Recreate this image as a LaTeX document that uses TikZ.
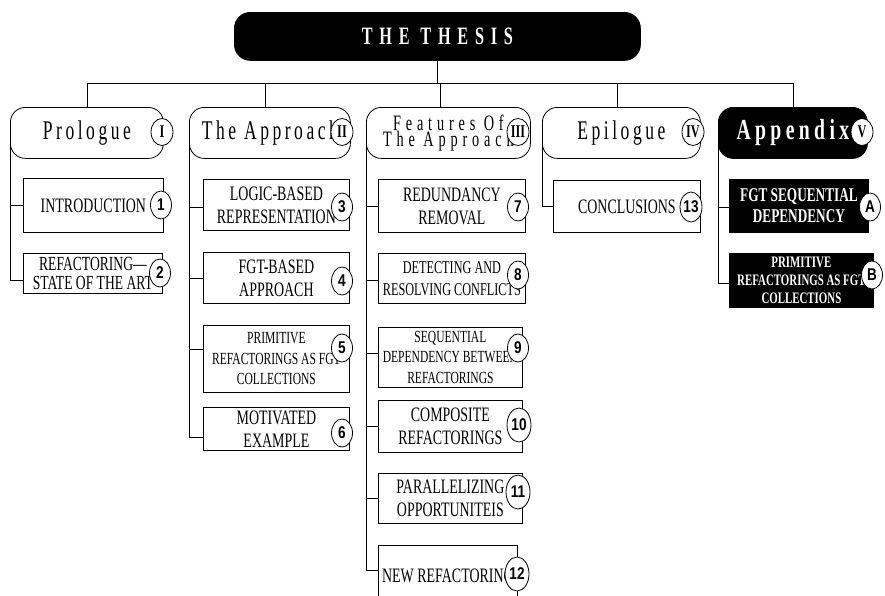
\documentclass[tikz,border=0pt]{standalone}
\usepackage{fontspec}
\setmainfont{Liberation Serif}
\newfontfamily\bxf[FakeStretch=0.68]{Liberation Serif}
\newfontfamily\hdf[FakeStretch=0.65,LetterSpace=13]{Liberation Serif}
\newfontfamily\ftf[FakeStretch=0.65,LetterSpace=22]{Liberation Serif}
\newfontfamily\apf[FakeStretch=0.68,LetterSpace=15]{Liberation Serif}
\newfontfamily\thf[FakeStretch=0.65,LetterSpace=27]{Liberation Serif}
\newfontfamily\nmf[FakeStretch=0.8]{Liberation Sans}
\usetikzlibrary{shapes.geometric}
\tikzset{
 line/.style={draw=black, line width=0.8pt},
 hdr/.style={line, rounded corners=15pt, fill=white, inner sep=0pt, align=center, font=\hdf\fontsize{27}{27}\selectfont},
 hdrblack/.style={hdr, fill=black, text=white, font=\apf\bfseries\fontsize{29}{29}\selectfont},
 box/.style={line, fill=white, inner sep=0pt, align=center, font=\bxf\fontsize{20.5}{23}\selectfont},
 smallbox/.style={box, font=\bxf\fontsize{17}{20.5}\selectfont},
 blackbox/.style={box, fill=black, text=white, font=\bxf\bfseries\fontsize{19.5}{21}\selectfont},
 num/.style={ellipse, line, fill=white, minimum width=21pt, minimum height=28pt, inner sep=0pt, font=\nmf\bfseries\fontsize{17}{17}\selectfont},
 bignum/.style={num, minimum width=24pt, minimum height=34pt},
 rom/.style={ellipse, line, fill=white, minimum width=22pt, minimum height=27pt, inner sep=0pt, font=\bxf\bfseries\fontsize{18}{18}\selectfont},
}
\newcommand\mkbx[7]{\node[#1,anchor=north west,minimum width={(#5)-(#3)},minimum height={(#6)-(#4)}] (#2) at (#3,#4) {#7};}
\begin{document}
\begin{tikzpicture}[x=1pt,y=-1pt]
\useasboundingbox (0,0) rectangle (885,595);
\clip (0,0) rectangle (885,595);
% top
\mkbx{hdrblack, rounded corners=16pt, font=\thf\bfseries\fontsize{25}{25}\selectfont}{T}{234}{12}{640}{60}{THE THESIS}
% headers
\mkbx{hdr}{h1}{10}{107}{163}{158}{Prologue}
\mkbx{hdr}{h2}{189}{107}{350}{158}{The Approach}
\mkbx{hdr,font=\ftf\fontsize{22}{16}\selectfont}{h3}{366}{107}{530}{158}{\raisebox{-2pt}{Features Of}\\\raisebox{-2pt}{The Approach}}
\mkbx{hdr}{h4}{542}{107}{700}{158}{Epilogue}
\mkbx{hdrblack}{h5}{718}{107}{867}{158}{Appendix}
\draw[line] (T.south) -- ++(0,23) coordinate (bar);
\draw[line] (h1.north) |- (bar);
\draw[line] ([xshift=-5pt]h2.north) |- (bar);
\draw[line] ([xshift=-8pt]h3.north) |- (bar);
\draw[line] ([xshift=-4pt]h4.north) |- (bar);
\draw[line] (h5.north) |- (bar);
\node[rom] (r1) at (162,132) {I};
\node[rom] (r2) at (342,132) {II};
\node[rom] (r3) at (518,132) {III};
\node[rom] (r4) at (693,132) {IV};
\node[rom] (r5) at (862,132) {V};
% column 1
\mkbx{box}{b1}{23}{178}{163}{232}{INTRODUCTION}
\mkbx{box,font=\bxf\fontsize{20}{19.5}\selectfont}{b2}{23}{253}{162}{293}{REFACTORING—\\STATE OF THE ART}
\draw[line] ([yshift=-8pt]h1.west) |- (b1.west) ([yshift=-8pt]h1.west) |- ([yshift=-7pt]b2.west);
\node[num] (c1) at (161,205) {1};
\node[num] (c2) at (160,273) {2};
% column 2
\mkbx{box}{b3}{203}{179}{349}{230}{LOGIC-BASED\\REPRESENTATION}
\mkbx{box}{b4}{203}{252}{349}{303}{FGT-BASED\\APPROACH}
\mkbx{smallbox}{b5}{203}{325}{349}{392}{PRIMITIVE\\REFACTORINGS AS FGT\\COLLECTIONS}
\mkbx{box}{b6}{203}{407}{349}{450}{MOTIVATED\\EXAMPLE}
\draw[line] ([yshift=-8pt]h2.west) |- ([yshift=-2pt]b3.west)
  ([yshift=-8pt]h2.west) |- (b4.west)
  ([yshift=-8pt]h2.west) |- ([yshift=10pt]b5.west)
  ([yshift=-8pt]h2.west) |- ([yshift=-8pt]b6.west);
\node[num] (c3) at (342,207) {3};
\node[num] (c4) at (342,281) {4};
\node[num] (c5) at (342,348) {5};
\node[num] (c6) at (342,433) {6};
% column 3
\mkbx{box}{b7}{378}{179}{525}{232}{REDUNDANCY\\REMOVAL}
\mkbx{smallbox,font=\bxf\fontsize{18}{22}\selectfont}{b8}{378}{253}{525}{303}{DETECTING AND\\RESOLVING CONFLICTS}
\mkbx{smallbox}{b9}{378}{327}{522}{387}{SEQUENTIAL\\DEPENDENCY BETWEEN\\REFACTORINGS}
\mkbx{box}{b10}{378}{400}{522}{452}{COMPOSITE\\REFACTORINGS}
\mkbx{box}{b11}{378}{473}{522}{523}{PARALLELIZING\\OPPORTUNITEIS}
\mkbx{box}{b12}{378}{545}{517}{605}{NEW REFACTORING}
\draw[line] ([yshift=-8pt]h3.west) |- (b7.west)
  ([yshift=-8pt]h3.west) |- ([yshift=-2pt]b8.west)
  ([yshift=-8pt]h3.west) |- ([yshift=4pt]b9.west)
  ([yshift=-8pt]h3.west) |- (b10.west)
  ([yshift=-8pt]h3.west) |- (b11.west)
  ([yshift=-8pt]h3.west) |- ([yshift=5pt]b12.west);
\node[num] (c7) at (518,207) {7};
\node[num] (c8) at (518,275) {8};
\node[num] (c9) at (518,348) {9};
\node[bignum] (c10) at (519,425) {10};
\node[bignum] (c11) at (518,492) {11};
\node[bignum] (c12) at (517,574) {12};
% column 4
\mkbx{box}{b13}{553}{180}{700}{232}{CONCLUSIONS}
\draw[line] ([yshift=-8pt]h4.west) |- (b13.west);
\node[num, minimum width=22pt, minimum height=30pt] (c13) at (691,207) {13};
% column 5
\mkbx{blackbox}{ba}{729}{179}{868}{232}{FGT SEQUENTIAL\\DEPENDENCY}
\mkbx{blackbox,font=\bxf\bfseries\fontsize{16}{18}\selectfont}{bb}{729}{253}{873}{307}{PRIMITIVE\\REFACTORINGS AS FGT\\COLLECTIONS}
\draw[line] ([yshift=-8pt]h5.west) |- ([yshift=-1.5pt]ba.west) ([yshift=-8pt]h5.west) |- ([yshift=-3pt]bb.west);
\node[num] (ca) at (870,207) {A};
\node[num] (cb) at (872,275) {B};
\end{tikzpicture}
\end{document}
